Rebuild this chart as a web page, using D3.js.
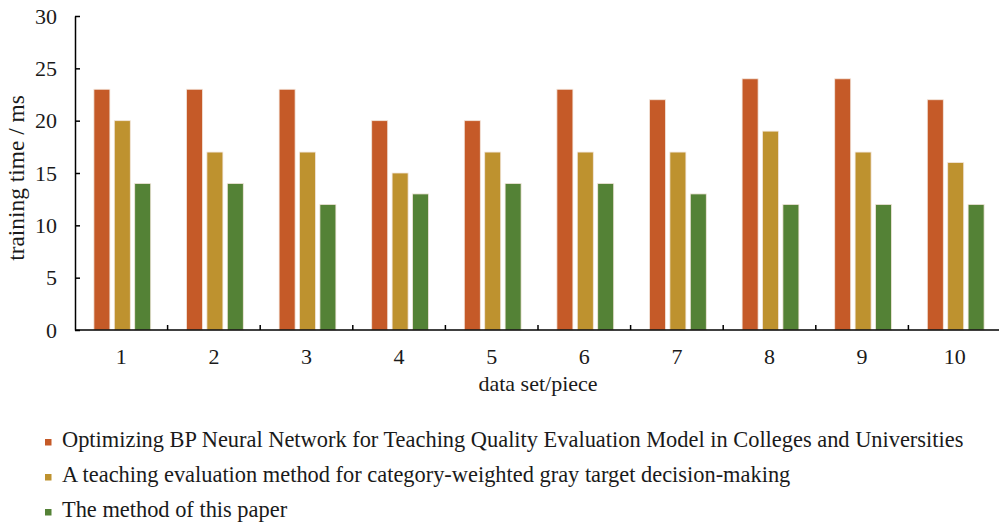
<!DOCTYPE html>
<html>
<head>
<meta charset="utf-8">
<script src="https://cdn.jsdelivr.net/npm/d3@7"></script>
<style>
  html, body { margin: 0; padding: 0; background: #fff; }
  svg { display: block; font-family: "Liberation Serif", "Times New Roman", serif; }
</style>
</head>
<body>
<svg id="chart" width="999" height="525"></svg>
<script>
// Training time per data set for three teaching-evaluation methods
const categories = ["1", "2", "3", "4", "5", "6", "7", "8", "9", "10"];
const seriesNames = [
  "Optimizing BP Neural Network for Teaching Quality Evaluation Model in Colleges and Universities",
  "A teaching evaluation method for category-weighted gray target decision-making",
  "The method of this paper"
];
const bpValues     = [23, 23, 23, 20, 20, 23, 22, 24, 24, 22];
const grayValues   = [20, 17, 17, 15, 17, 17, 17, 19, 17, 16];
const paperValues  = [14, 14, 12, 13, 14, 14, 13, 12, 12, 12];
const yTicks = [0, 5, 10, 15, 20, 25, 30];
const colors = ["#C55A28", "#BE922F", "#548236"];

const seriesValues = [bpValues, grayValues, paperValues];

const svg = d3.select("#chart");
const plotLeft = 75, plotRight = 1001, plotTop = 16, plotBottom = 330;
const textColor = "#1a1a1a";

const x = d3.scaleBand().domain(categories).range([plotLeft, plotRight]).paddingInner(0).paddingOuter(0);
const y = d3.scaleLinear().domain([0, 30]).range([plotBottom, plotTop]);

// bars within each category group
const barStep = 20.4, barW = 16;
const inner = d3.scaleBand().domain(d3.range(seriesNames.length))
  .range([-barStep * 1.5, barStep * 1.5])
  .paddingInner((barStep - barW) / barStep)
  .paddingOuter((barStep - barW) / barStep / 2);

const groups = svg.append("g").selectAll("g")
  .data(categories)
  .join("g")
  .attr("transform", d => `translate(${x(d) + x.bandwidth() / 2 + 1},0)`);

groups.selectAll("rect")
  .data((d, i) => seriesValues.map((vals, s) => ({ s, v: vals[i] })))
  .join("rect")
  .attr("x", d => inner(d.s))
  .attr("y", d => y(d.v))
  .attr("width", inner.bandwidth())
  .attr("height", d => y(0) - y(d.v))
  .attr("fill", d => colors[d.s])
  .attr("stroke", "#f3e6dc")
  .attr("stroke-width", 0.8);

// y axis with inward ticks
const yAxis = svg.append("g")
  .attr("transform", `translate(${plotLeft},0)`)
  .call(d3.axisLeft(y).tickValues(yTicks).tickSize(-5).tickPadding(18).tickSizeOuter(0));
yAxis.select(".domain").attr("stroke", "#000").attr("stroke-width", 1.5);
yAxis.selectAll(".tick line").attr("stroke", "#000").attr("stroke-width", 1.5);
yAxis.selectAll(".tick text")
  .attr("font-size", 22)
  .attr("font-family", "Liberation Serif")
  .attr("fill", textColor);

// x axis: baseline plus inward ticks on category boundaries
const xAxis = svg.append("g").attr("transform", `translate(0,${plotBottom})`);
xAxis.append("line").attr("x1", plotLeft).attr("x2", plotRight).attr("stroke", "#000").attr("stroke-width", 1.5);
xAxis.selectAll("line.bound")
  .data(categories.slice(1))
  .join("line")
  .attr("class", "bound")
  .attr("x1", d => x(d)).attr("x2", d => x(d))
  .attr("y1", 0).attr("y2", -5)
  .attr("stroke", "#000").attr("stroke-width", 1.5);
xAxis.selectAll("text")
  .data(categories)
  .join("text")
  .attr("x", d => x(d) + x.bandwidth() / 2)
  .attr("y", 34)
  .attr("text-anchor", "middle")
  .attr("font-size", 22)
  .attr("fill", textColor)
  .text(d => d);

// axis titles
svg.append("text")
  .attr("x", 538)
  .attr("y", 391)
  .attr("text-anchor", "middle")
  .attr("font-size", 22)
  .attr("fill", textColor)
  .text("data set/piece");

svg.append("text")
  .attr("transform", `translate(24,178) rotate(-90)`)
  .attr("text-anchor", "middle")
  .attr("font-size", 23.4)
  .attr("fill", textColor)
  .text("training time / ms");

// legend
const legendY = [446.5, 481.5, 516.5];
const legend = svg.append("g").selectAll("g")
  .data(seriesNames)
  .join("g")
  .attr("transform", (d, i) => `translate(45,${legendY[i]})`);
legend.append("rect")
  .attr("x", 0).attr("y", -7.5).attr("width", 6.5).attr("height", 6.5)
  .attr("fill", (d, i) => colors[i]);
legend.append("text")
  .attr("x", 17).attr("y", 0)
  .attr("font-size", 22.4)
  .attr("fill", textColor)
  .text(d => d);
</script>
</body>
</html>
